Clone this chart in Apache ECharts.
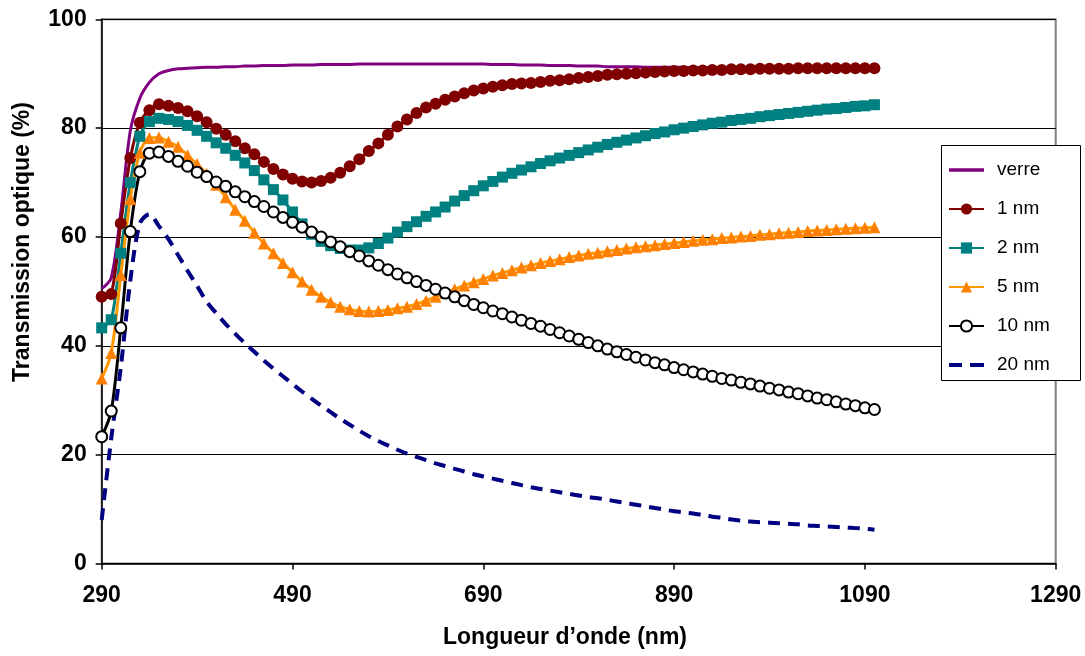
<!DOCTYPE html>
<html>
<head>
<meta charset="utf-8">
<script src="https://cdn.jsdelivr.net/npm/echarts@6/dist/echarts.min.js"></script>
<style>
html,body{margin:0;padding:0;background:#fff;}
#chart{width:1085px;height:656px;}
</style>
</head>
<body>
<div id="chart"></div>
<script>
// Wavelengths (nm)
const wavelengths = [
  290,300,310,320,330,340,350,360,370,380,
  390,400,410,420,430,440,450,460,470,480,
  490,500,510,520,530,540,550,560,570,580,
  590,600,610,620,630,640,650,660,670,680,
  690,700,710,720,730,740,750,760,770,780,
  790,800,810,820,830,840,850,860,870,880,
  890,900,910,920,930,940,950,960,970,980,
  990,1000,1010,1020,1030,1040,1050,1060,1070,1080,
  1090,1100
];
const seriesNames = ['verre','1 nm','2 nm','5 nm','10 nm','20 nm'];
const xTicks = [290,490,690,890,1090,1290];
const yTicks = [0,20,40,60,80,100];
const xTitle = 'Longueur d\u2019onde (nm)';
const yTitle = 'Transmission optique (%)';

const verre = [
  50.5,52.5,64.5,79.5,85.5,88.4,90.0,90.6,90.9,91.0,
  91.1,91.2,91.2,91.3,91.3,91.4,91.4,91.5,91.5,91.5,
  91.6,91.6,91.6,91.7,91.7,91.7,91.7,91.8,91.8,91.8,
  91.8,91.8,91.8,91.8,91.8,91.8,91.8,91.8,91.8,91.8,
  91.8,91.7,91.7,91.7,91.6,91.6,91.6,91.5,91.5,91.5,
  91.4,91.4,91.4,91.3,91.3,91.3,91.3,91.2,91.2,91.2,
  91.2,91.2,91.1,91.1,91.1,91.1,91.1,91.1,91.1,91.1,
  91.1,91.1,91.0,91.0,91.0,91.0,91.0,91.0,91.0,91.0,
  91.0,91.0
];
const nm1 = [
  49.0,49.5,62.5,74.5,81.0,83.3,84.4,84.1,83.7,83.1,
  82.2,81.1,79.9,78.8,77.6,76.3,75.2,73.8,72.5,71.5,
  70.7,70.2,70.0,70.3,70.9,71.8,73.0,74.3,75.8,77.2,
  78.8,80.3,81.6,82.8,83.8,84.5,85.2,85.8,86.4,86.9,
  87.3,87.6,87.9,88.1,88.2,88.3,88.5,88.7,88.8,89.0,
  89.2,89.4,89.6,89.8,89.9,90.0,90.1,90.2,90.3,90.4,
  90.5,90.5,90.6,90.6,90.7,90.7,90.8,90.8,90.8,90.9,
  90.9,90.9,90.9,91.0,91.0,91.0,91.0,91.0,91.0,91.0,
  91.0,91.0
];
const nm2 = [
  43.3,44.8,57.0,70.0,78.5,81.2,81.8,81.6,81.2,80.5,
  79.6,78.5,77.3,76.3,75.0,73.6,72.2,70.5,68.7,66.8,
  64.6,62.4,60.5,59.2,58.4,57.9,57.6,57.6,58.0,58.8,
  59.8,60.9,61.9,62.8,63.8,64.6,65.5,66.6,67.6,68.5,
  69.4,70.2,71.0,71.7,72.3,72.9,73.5,74.0,74.5,75.0,
  75.5,76.0,76.5,77.0,77.4,77.8,78.2,78.6,79.0,79.3,
  79.7,80.0,80.3,80.6,80.9,81.1,81.4,81.6,81.8,82.1,
  82.3,82.5,82.7,82.9,83.1,83.3,83.5,83.6,83.8,84.0,
  84.1,84.3
];
const nm5 = [
  34.0,38.7,53.0,67.0,75.5,78.2,78.3,77.5,76.6,75.0,
  73.4,71.6,69.6,67.3,65.0,63.0,60.8,58.8,57.0,55.2,
  53.5,51.8,50.3,49.0,48.0,47.2,46.7,46.4,46.3,46.4,
  46.6,46.9,47.2,47.7,48.3,49.0,49.7,50.4,51.1,51.7,
  52.3,52.9,53.4,53.9,54.4,54.8,55.2,55.6,55.9,56.3,
  56.6,56.9,57.1,57.4,57.6,57.9,58.1,58.3,58.5,58.7,
  58.9,59.1,59.3,59.5,59.6,59.8,59.9,60.1,60.2,60.4,
  60.5,60.7,60.8,60.9,61.1,61.2,61.3,61.4,61.5,61.6,
  61.7,61.8
];
const nm10 = [
  23.3,28.0,43.3,61.0,72.0,75.4,75.6,74.8,73.9,73.0,
  71.9,71.1,70.1,69.3,68.3,67.4,66.5,65.6,64.6,63.6,
  62.7,61.8,60.9,60.0,59.1,58.2,57.3,56.5,55.6,54.8,
  54.0,53.2,52.5,51.8,51.1,50.4,49.7,49.0,48.3,47.6,
  47.0,46.4,45.9,45.3,44.7,44.1,43.6,43.0,42.4,41.8,
  41.2,40.6,40.0,39.4,38.9,38.4,37.9,37.4,36.9,36.5,
  36.0,35.6,35.2,34.8,34.4,34.0,33.7,33.3,33.0,32.6,
  32.2,31.9,31.5,31.2,30.8,30.4,30.1,29.7,29.3,29.0,
  28.6,28.3
];
const nm20 = [
  8.0,23.0,36.0,52.0,62.5,64.2,62.0,59.6,56.7,53.8,
  51.0,48.1,46.0,44.0,42.2,40.5,38.9,37.3,35.8,34.4,
  33.0,31.6,30.3,29.0,27.8,26.6,25.5,24.4,23.4,22.5,
  21.7,20.9,20.2,19.6,19.0,18.4,17.9,17.4,16.9,16.4,
  16.0,15.6,15.2,14.8,14.4,14.0,13.7,13.4,13.1,12.8,
  12.5,12.2,12.0,11.7,11.4,11.1,10.8,10.5,10.2,9.9,
  9.6,9.4,9.2,8.9,8.6,8.4,8.1,7.9,7.7,7.6,
  7.5,7.4,7.3,7.2,7.0,6.9,6.8,6.7,6.6,6.5,
  6.4,6.2
];

function pairs(vals){ return wavelengths.map((w,i)=>[w, vals[i]]); }

const FONT = '"Liberation Sans", Arial, sans-serif';
const chart = echarts.init(document.getElementById('chart'), null, {renderer:'canvas'});

const option = {
  animation: false,
  backgroundColor: '#fff',
  grid: {left: 101.7, right: 29.3, top: 19.3, bottom: 92.5, show: true, borderColor: '#808080', borderWidth: 2, backgroundColor: 'transparent'},
  graphic: [
    {type: 'rect', left: 941, top: 145, z: 100,
     shape: {width: 139, height: 235},
     style: {fill: 'rgba(255,255,255,0)', stroke: '#000', lineWidth: 1}},
    {type: 'text', x: 565, y: 638, z: 100,
     style: {text: xTitle, font: 'bold 23px ' + FONT, fill: '#000', align: 'center', verticalAlign: 'middle'}},
    {type: 'text', x: 23, y: 242, rotation: Math.PI/2, z: 100,
     style: {text: yTitle, font: 'bold 23px ' + FONT, fill: '#000', align: 'center', verticalAlign: 'middle'}}
  ],
  legend: {
    orient: 'vertical', left: 941, top: 145,
    padding: [15, 10, 5, 7],
    itemWidth: 35, itemHeight: 14, itemGap: 19,
    backgroundColor: '#fff',
    textStyle: {fontFamily: FONT, fontSize: 19, color: '#000', lineHeight: 20, padding: [0,0,0,8]},
    data: [
      {name: seriesNames[0], icon: 'path://M0,0H35V3.5H0Z'},
      {name: seriesNames[1]},
      {name: seriesNames[2]},
      {name: seriesNames[3]},
      {name: seriesNames[4]},
      {name: seriesNames[5], icon: 'path://M0,0H13V4H0Z M21,0H35V4H21Z'}
    ]
  },
  xAxis: {
    type: 'value', min: xTicks[0], max: xTicks[xTicks.length-1], interval: xTicks[1]-xTicks[0],
    axisLine: {lineStyle: {color: '#000', width: 1.5}},
    axisTick: {show: true, inside: false, length: 6, lineStyle: {color: '#000', width: 1.5}},
    axisLabel: {fontFamily: FONT, fontSize: 23, fontWeight: 'bold', color: '#000', margin: 21,
                formatter: v => String(v)},
    splitLine: {show: false}
  },
  yAxis: {
    type: 'value', min: yTicks[0], max: yTicks[yTicks.length-1], interval: yTicks[1]-yTicks[0],
    axisLine: {show: true, lineStyle: {color: '#000', width: 1.5}},
    axisTick: {show: true, inside: false, length: 6, lineStyle: {color: '#000', width: 1.5}},
    axisLabel: {fontFamily: FONT, fontSize: 23, fontWeight: 'bold', color: '#000', margin: 15,
                formatter: v => String(v)},
    splitLine: {show: true, lineStyle: {color: '#000', width: 1.2}}
  },
  series: [
    {name: seriesNames[0], type: 'line', data: pairs(verre), smooth: 0.3, showSymbol: false, symbol: 'none',
     lineStyle: {color: '#800080', width: 3}, itemStyle: {color: '#800080'}},
    {name: seriesNames[1], type: 'line', data: pairs(nm1), smooth: 0.3, showAllSymbol: true,
     symbol: 'circle', symbolSize: 12,
     lineStyle: {color: '#800000', width: 3}, itemStyle: {color: '#800000'}},
    {name: seriesNames[2], type: 'line', data: pairs(nm2), smooth: 0.3, showAllSymbol: true,
     symbol: 'rect', symbolSize: 11,
     lineStyle: {color: '#008080', width: 3}, itemStyle: {color: '#008080'}},
    {name: seriesNames[3], type: 'line', data: pairs(nm5), smooth: 0.3, showAllSymbol: true,
     symbol: 'triangle', symbolSize: 12,
     lineStyle: {color: '#FF9900', width: 3}, itemStyle: {color: '#FF8000'}},
    {name: seriesNames[4], type: 'line', data: pairs(nm10), smooth: 0.3, showAllSymbol: true,
     symbol: 'emptyCircle', symbolSize: 11,
     lineStyle: {color: '#000', width: 3}, itemStyle: {color: '#000', borderWidth: 1.6}},
    {name: seriesNames[5], type: 'line', data: pairs(nm20), smooth: 0.3, showSymbol: false, symbol: 'none',
     lineStyle: {color: '#000080', width: 4, type: [12, 8]}, itemStyle: {color: '#000080'}}
  ]
};
chart.setOption(option);
</script>
</body>
</html>
